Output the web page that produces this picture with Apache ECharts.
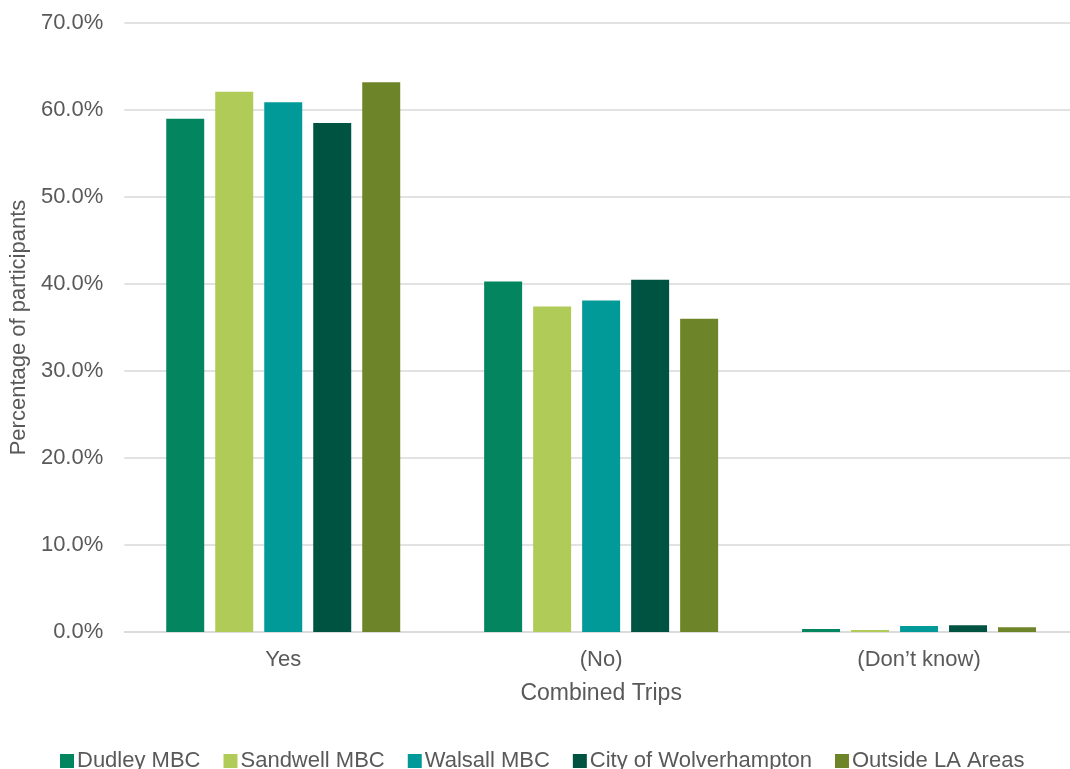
<!DOCTYPE html>
<html><head><meta charset="utf-8">
<script src="https://cdn.jsdelivr.net/npm/echarts@6/dist/echarts.min.js"></script>
<style>html,body{margin:0;padding:0;background:#fff;overflow:hidden}#c{width:1082px;height:769px}</style>
</head><body><div id="c"></div>
<script>
const categories = ["Yes", "(No)", "(Don\u2019t know)"];
const seriesNames = ["Dudley MBC", "Sandwell MBC", "Walsall MBC", "City of Wolverhampton", "Outside LA Areas"];
const dudley = [59.0, 40.3, 0.35];
const sandwell = [62.1, 37.4, 0.23];
const walsall = [60.9, 38.1, 0.69];
const wolverhampton = [58.5, 40.5, 0.77];
const outside = [63.2, 36.0, 0.54];
const colors = ["#03855F", "#B0CB57", "#029A99", "#005241", "#6D8429"];
const values = [dudley, sandwell, walsall, wolverhampton, outside];

const chart = echarts.init(document.getElementById('c'));
const font = 'Liberation Sans, Arial, sans-serif';
chart.setOption({
  animation: false,
  textStyle: { fontFamily: font },
  grid: { left: 124, top: 23, width: 954, height: 609, containLabel: false },
  legend: {
    top: 745, left: 55, itemWidth: 14, itemHeight: 14, itemGap: 23,
    icon: 'rect',
    textStyle: { fontSize: 22, color: '#595959', fontFamily: font, padding: [0,0,0,-2] },
    data: seriesNames
  },
  xAxis: {
    type: 'category', data: categories,
    name: 'Combined Trips', nameLocation: 'middle', nameGap: 50,
    nameTextStyle: { fontSize: 23, color: '#595959' },
    axisLine: { lineStyle: { color: '#D9D9D9', width: 1.5 } },
    axisTick: { show: false },
    axisLabel: { fontSize: 22, color: '#595959', margin: 17 }
  },
  yAxis: {
    type: 'value', min: 0, max: 70, interval: 10,
    name: 'Percentage of participants', nameLocation: 'middle', nameGap: 93,
    nameTextStyle: { fontSize: 22, color: '#595959' },
    axisLine: { show: false }, axisTick: { show: false },
    splitLine: { lineStyle: { color: '#D9D9D9', width: 1.5 } },
    axisLabel: { fontSize: 22, color: '#595959', margin: 21, formatter: v => v.toFixed(1) + '%' }
  },
  series: seriesNames.map((n, i) => ({
    name: n, type: 'bar', data: values[i],
    barGap: '29%', barCategoryGap: '26.4%',
    itemStyle: { color: colors[i] }
  }))
});
</script></body></html>
